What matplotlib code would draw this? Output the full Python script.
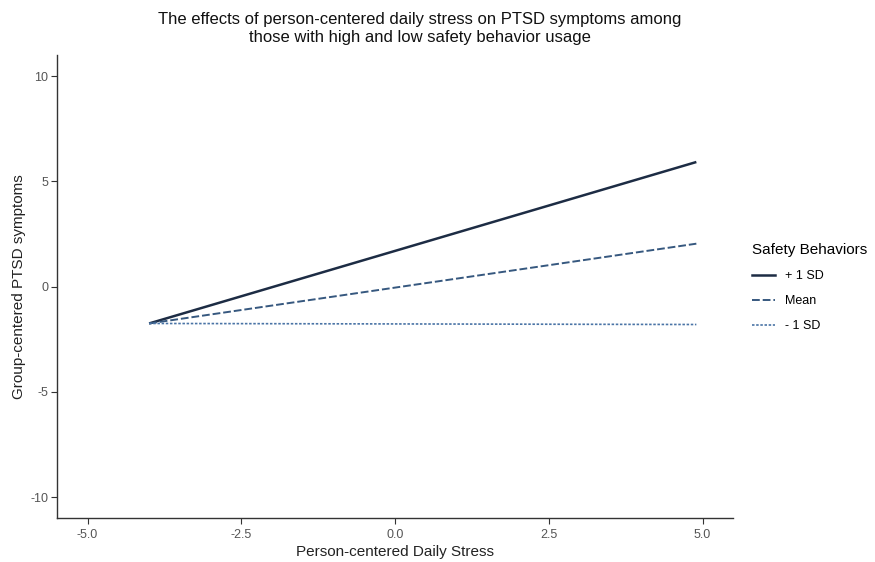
import matplotlib
matplotlib.use("Agg")
import matplotlib.pyplot as plt
from matplotlib.lines import Line2D

plt.rcParams['font.family'] = ['Liberation Sans', 'DejaVu Sans']

# Simple slopes of daily stress at three levels of safety behaviour usage
stress = [-4.0, 4.9]
high_sd = [-1.75, 5.92]   # +1 SD
mean_sb = [-1.75, 2.04]   # Mean
low_sd = [-1.75, -1.80]   # -1 SD

series_labels = ["+ 1 SD", "Mean", "- 1 SD"]
x_ticks = [-5.0, -2.5, 0.0, 2.5, 5.0]
y_ticks = [-10, -5, 0, 5, 10]

fig = plt.figure(figsize=(8.75, 5.62), dpi=100)
ax = fig.add_axes([0.065, 0.078, 0.773, 0.824])

styles = [
    dict(color="#1d2c44", lw=1.8, ls="-"),
    dict(color="#36587f", lw=1.4, ls=(0, (4, 1.5))),
    dict(color="#4a74a6", lw=1.2, ls=(0, (1.5, 1))),
]
for ys, st in zip([high_sd, mean_sb, low_sd], styles):
    ax.plot(stress, ys, solid_capstyle="butt", dash_capstyle="butt", **st)

ax.set_xlim(-5.5, 5.5)
ax.set_ylim(-11, 11)
ax.set_xticks(x_ticks)
ax.set_xticklabels([f"{v:.1f}" for v in x_ticks])
ax.set_yticks(y_ticks)
ax.set_yticklabels([str(v) for v in y_ticks])

for s in ["top", "right"]:
    ax.spines[s].set_visible(False)
for s in ["left", "bottom"]:
    ax.spines[s].set_color("#333333")
    ax.spines[s].set_linewidth(1.0)
ax.tick_params(axis="both", colors="#333333", labelcolor="#555555",
               labelsize=9, length=4, width=0.8)
ax.tick_params(axis="y", pad=2)

ax.set_xlabel("Person-centered Daily Stress", fontsize=11, color="#222222", labelpad=3)
ax.set_ylabel("Group-centered PTSD symptoms", fontsize=11, color="#222222", labelpad=3)

fig.text(0.48, 0.978,
         "The effects of person-centered daily stress on PTSD symptoms among\n"
         "those with high and low safety behavior usage",
         ha="center", va="top", fontsize=12, color="#111111", linespacing=1.25)

handles = [Line2D([], [], **st) for st in styles]
leg = fig.legend(handles, series_labels, title="Safety Behaviors",
                 loc="upper left", bbox_to_anchor=(0.846, 0.588),
                 frameon=False, fontsize=9, title_fontsize=11,
                 handlelength=1.9, labelspacing=1.05, handletextpad=0.8)
leg._legend_box.align = "left"

fig.savefig("out.png", dpi=100)
